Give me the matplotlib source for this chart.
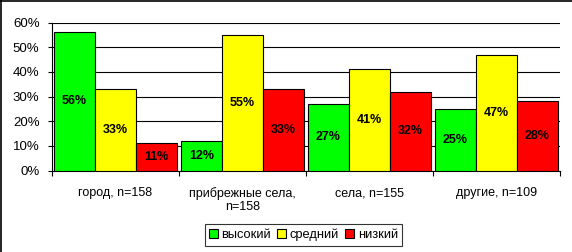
import matplotlib
matplotlib.use('Agg')
import matplotlib.pyplot as plt
import numpy as np
from matplotlib.lines import Line2D

categories = ['город, n=158', 'прибрежные села,\nn=158', 'села, n=155', 'другие, n=109']
series_names = ['высокий', 'средний', 'низкий']
high = [56, 12, 27, 25]
mid = [33, 55, 41, 47]
low = [11, 33, 32, 28]
colors = ['#00FF00', '#FFFF00', '#FF0000']
yticks = [0, 10, 20, 30, 40, 50, 60]

plt.rcParams['font.family'] = ['Liberation Sans', 'DejaVu Sans']
fig = plt.figure(figsize=(5.72, 2.52), dpi=100)
ax = fig.add_axes([52/572, 1-170.5/252, 508/572, 148/252])
n = len(categories)
x = np.arange(n)
w = 0.323
for i, (vals, c, name) in enumerate(zip([high, mid, low], colors, series_names)):
    bars = ax.bar(x + (i-1)*w, vals, w, color=c, edgecolor='black',
                  linewidth=0.8, label=name, zorder=3)
    for b, v in zip(bars, vals):
        ax.text(b.get_x()+b.get_width()/2, v/2, f'{v}%', ha='center', va='center',
                fontsize=9, fontweight='bold', zorder=4)

ax.set_xlim(-0.5, n-0.5)
ax.set_ylim(0, 60)
ax.set_yticks(yticks)
ax.set_yticklabels([f'{t}%' for t in yticks], fontsize=9.5)
ax.tick_params(axis='y', direction='out', length=3, width=0.8, pad=6)
ax.yaxis.grid(True, color='black', linewidth=0.8, zorder=0)
ax.set_axisbelow(True)

ax.set_xticks(np.arange(n+1) - 0.5)
ax.set_xticklabels([])
ax.tick_params(axis='x', which='major', direction='out', length=3.5, width=0.8)
ax.set_xticks(x, minor=True)
ax.set_xticklabels(categories, minor=True, fontsize=9, linespacing=1.15)
ax.tick_params(axis='x', which='minor', length=0, pad=12)

for s in ['top', 'right']:
    ax.spines[s].set_visible(False)
for s in ['left', 'bottom']:
    ax.spines[s].set_linewidth(0.8)

leg = fig.legend(loc='center', bbox_to_anchor=(303.5/572, 1-235/252), ncol=3,
                 fontsize=9.3, frameon=True, fancybox=False, edgecolor='black',
                 handlelength=0.65, handleheight=0.65, handletextpad=0.3,
                 columnspacing=0.5, borderpad=0.35, borderaxespad=0)
leg.get_frame().set_linewidth(0.8)

fig.add_artist(Line2D([0.002, 0.002], [0, 1], transform=fig.transFigure, color='black', linewidth=1.2))
fig.add_artist(Line2D([0, 1], [0.998, 0.998], transform=fig.transFigure, color='black', linewidth=1.2))

fig.savefig('out.png', dpi=100)
